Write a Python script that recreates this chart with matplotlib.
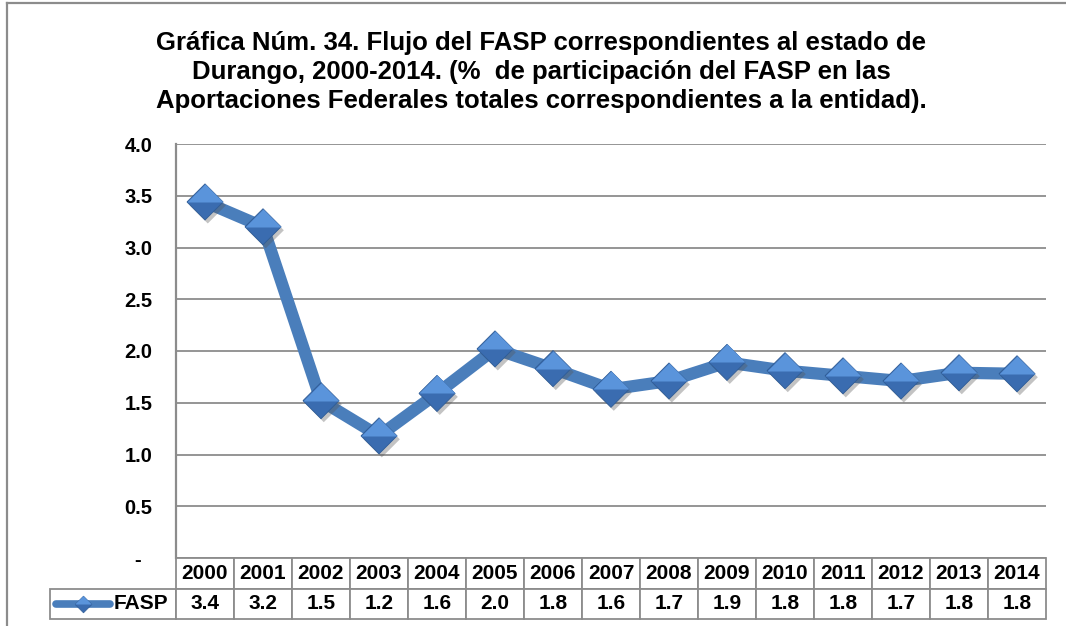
import matplotlib
matplotlib.use("Agg")
import matplotlib.pyplot as plt
import matplotlib.patheffects as pe
from matplotlib.lines import Line2D
from matplotlib.table import Table
from matplotlib.ticker import FuncFormatter

plt.rcParams['font.family'] = ['Liberation Sans', 'DejaVu Sans']

# FASP share of total federal contributions, Durango (%)
years = [2000, 2001, 2002, 2003, 2004, 2005, 2006, 2007,
         2008, 2009, 2010, 2011, 2012, 2013, 2014]
fasp = [3.44, 3.20, 1.52, 1.18, 1.59, 2.02, 1.83, 1.63,
        1.71, 1.89, 1.81, 1.76, 1.71, 1.79, 1.78]
series_name = "FASP"
title = ("Gráfica Núm. 34. Flujo del FASP correspondientes al estado de\n"
         "Durango, 2000-2014. (%  de participación del FASP en las\n"
         "Aportaciones Federales totales correspondientes a la entidad).")

line_col = '#4A7EBB'
top_col = '#5A94DB'
bot_col = '#3A6CB0'
grid_col = '#8C8C8C'

W, H = 1066, 626
fig = plt.figure(figsize=(W / 100, H / 100), dpi=100)
ax = fig.add_axes([176 / W, 1 - 558 / H, 870 / W, 414 / H])

# outer chart frame (only left and top edges fall inside the picture)
fig.add_artist(Line2D([6.5 / W, 6.5 / W], [0, 1 - 2.5 / H], color=grid_col, lw=1.6))
fig.add_artist(Line2D([6.5 / W, 1], [1 - 2.5 / H, 1 - 2.5 / H], color=grid_col, lw=1.6))

fig.text(541 / W, 1 - 72 / H, title, ha='center', va='center',
         fontsize=18.5, fontweight='bold', linespacing=1.24)

# series: thick line plus bevelled diamonds
ax.plot(years, fasp, color=line_col, lw=8.8, solid_joinstyle='miter', zorder=3)
diamond = [(-1, 0), (0, 1), (1, 0), (0, -1), (-1, 0)]
upper = [(-1, 0), (0, 1), (1, 0), (-1, 0)]
ax.plot(years, fasp, ls='none', marker=diamond, ms=26, mfc=bot_col,
        mec='#2F5C96', mew=0.6, zorder=4, clip_on=False,
        path_effects=[pe.SimplePatchShadow(offset=(2, -2.5), shadow_rgbFace='#555555', alpha=0.35),
                      pe.Normal()])
ax.plot(years, fasp, ls='none', marker=upper, ms=26, mfc=top_col,
        mec='none', zorder=5, clip_on=False)

ax.set_xlim(years[0] - 0.5, years[-1] + 0.5)
ax.set_ylim(0, 4)
ax.set_yticks([i * 0.5 for i in range(9)])
ax.yaxis.set_major_formatter(FuncFormatter(lambda v, p: '-  ' if v == 0 else f'{v:.1f}'))
ax.set_xticks([])
ax.tick_params(axis='y', length=0, pad=17, labelsize=14.5)
for lab in ax.get_yticklabels():
    lab.set_fontweight('bold')
ax.grid(axis='y', color=grid_col, lw=1.3)
ax.set_axisbelow(True)
for s in ['top', 'right', 'bottom']:
    ax.spines[s].set_visible(False)
ax.spines['left'].set_color(grid_col)
ax.spines['left'].set_linewidth(1.6)

# data table under the plot
label_w = 126
col_w = 58
tb = Table(ax, bbox=[-label_w / 870, -61 / 414, (870 + label_w) / 870, 61 / 414])
for j, yr in enumerate(years):
    tb.add_cell(0, j + 1, col_w, 1, text=str(yr), loc='center')
    tb.add_cell(1, j + 1, col_w, 1, text=f'{fasp[j]:.1f}', loc='center')
c = tb.add_cell(1, 0, label_w, 1, text=series_name, loc='right')
c.PAD = 0.06
tb.auto_set_font_size(False)
tb.set_fontsize(15)
for cell in tb.get_celld().values():
    cell.set_edgecolor(grid_col)
    cell.set_linewidth(1.3)
    cell.get_text().set_fontweight('bold')
ax.add_table(tb)

# legend key inside the label cell
key_y = -45.5 / 414
ax.plot([-120 / 870, -66 / 870], [key_y, key_y], transform=ax.transAxes,
        color=line_col, lw=5.5, solid_capstyle='round', clip_on=False, zorder=6)
ax.plot([-93 / 870], [key_y], transform=ax.transAxes, ls='none', marker=diamond,
        ms=12, mfc=bot_col, mec='#2F5C96', mew=0.5, clip_on=False, zorder=7)
ax.plot([-93 / 870], [key_y], transform=ax.transAxes, ls='none', marker=upper,
        ms=12, mfc=top_col, mec='none', clip_on=False, zorder=8)

fig.savefig('out.png', dpi=100)
